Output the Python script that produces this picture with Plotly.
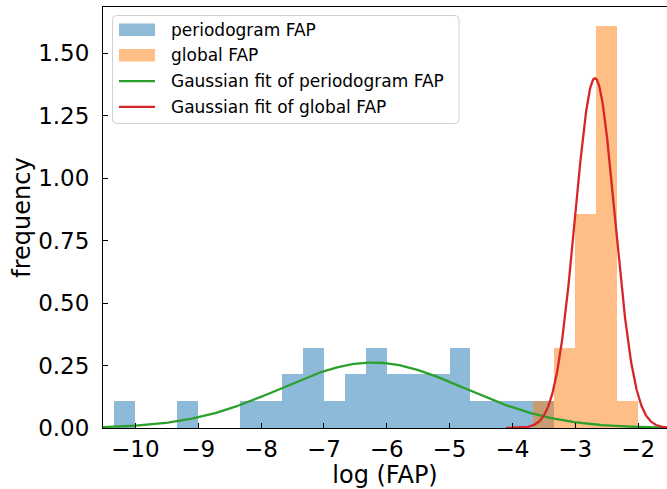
import numpy as np
import plotly.graph_objects as go

# Histogram of log(FAP) values, density-normalised, bins of width 1/3
bin_width = 1.0 / 3.0
periodogram_first_edge = -31.0 / 3.0
periodogram_counts = [1, 0, 0, 1, 0, 0, 1, 1, 2, 3, 1, 2, 3, 2, 2, 2, 3, 1, 1, 1, 1]
global_first_edge = -11.0 / 3.0
global_counts = [1, 3, 8, 15, 1]

# Gaussian fit parameters (amplitude, mean, sigma)
periodogram_fit = (0.262, -6.22, 1.46)
global_fit = (1.40, -2.686, 0.315)

x_ticks = [-10, -9, -8, -7, -6, -5, -4, -3, -2]
x_tick_labels = ["\u221210", "\u22129", "\u22128", "\u22127", "\u22126",
                 "\u22125", "\u22124", "\u22123", "\u22122"]
y_ticks = [0.0, 0.25, 0.5, 0.75, 1.0, 1.25, 1.5]

legend_labels = ["periodogram FAP", "global FAP",
                 "Gaussian fit of periodogram FAP", "Gaussian fit of global FAP"]

BLUE, ORANGE, GREEN, RED = "#1f77b4", "#ff7f0e", "#2ca02c", "#d62728"
FONT = "DejaVu Sans"

W, H = 667, 489
ML, MR, MT, MB = 103, 0, 7, 61
XR = [-10.514, -1.540]
YR = [0.0, 1.685]
PW, PH = W - ML - MR, H - MT - MB


def density(counts):
    n = sum(counts)
    return [c / (n * bin_width) for c in counts]


def centers(first_edge, counts):
    return [first_edge + (i + 0.5) * bin_width for i in range(len(counts))]


def gauss(x, a, mu, s):
    return a * np.exp(-((x - mu) ** 2) / (2 * s ** 2))


fig = go.Figure()

fig.add_trace(go.Bar(
    x=centers(periodogram_first_edge, periodogram_counts),
    y=density(periodogram_counts), width=bin_width,
    marker=dict(color=BLUE, line=dict(width=0)), opacity=0.5,
    name=legend_labels[0]))
fig.add_trace(go.Bar(
    x=centers(global_first_edge, global_counts),
    y=density(global_counts), width=bin_width,
    marker=dict(color=ORANGE, line=dict(width=0)), opacity=0.5,
    name=legend_labels[1]))

xg = np.linspace(-10.6, -1.5, 600)
fig.add_trace(go.Scatter(x=xg, y=gauss(xg, *periodogram_fit), mode="lines",
                         line=dict(color=GREEN, width=2.3), name=legend_labels[2]))
xr = np.linspace(-4.1, -1.5, 400)
fig.add_trace(go.Scatter(x=xr, y=gauss(xr, *global_fit), mode="lines",
                         line=dict(color=RED, width=2.3), name=legend_labels[3]))


# Legend box drawn in pixel units converted to paper coordinates
def px(xp):
    return (xp - ML) / PW


def py(yp):
    return (H - MB - yp) / PH


shapes = []
bx0, bx1, by0, by1, r = 112.5, 459.0, 15.5, 123.5, 4.0
path = (f"M {px(bx0 + r)} {py(by0)} L {px(bx1 - r)} {py(by0)} "
        f"Q {px(bx1)} {py(by0)} {px(bx1)} {py(by0 + r)} "
        f"L {px(bx1)} {py(by1 - r)} Q {px(bx1)} {py(by1)} {px(bx1 - r)} {py(by1)} "
        f"L {px(bx0 + r)} {py(by1)} Q {px(bx0)} {py(by1)} {px(bx0)} {py(by1 - r)} "
        f"L {px(bx0)} {py(by0 + r)} Q {px(bx0)} {py(by0)} {px(bx0 + r)} {py(by0)} Z")
shapes.append(dict(type="path", xref="paper", yref="paper", path=path,
                   fillcolor="rgba(255,255,255,0.8)",
                   line=dict(color="#d0d0d0", width=1), layer="above"))

row_y = [29.7, 55.3, 81.2, 106.8]
sx0, sx1 = 119.0, 155.0
for yy, col in zip(row_y[:2], [BLUE, ORANGE]):
    shapes.append(dict(type="rect", xref="paper", yref="paper",
                       x0=px(sx0), x1=px(sx1), y0=py(yy - 6.3), y1=py(yy + 6.3),
                       fillcolor=col, opacity=0.5, line=dict(width=0), layer="above"))
for yy, col in zip(row_y[2:], [GREEN, RED]):
    shapes.append(dict(type="line", xref="paper", yref="paper",
                       x0=px(sx0), x1=px(sx1), y0=py(yy), y1=py(yy),
                       line=dict(color=col, width=2.3), layer="above"))

annotations = []
for yy, lab in zip(row_y, legend_labels):
    annotations.append(dict(text=lab, xref="paper", yref="paper", x=px(169), y=py(yy),
                            xanchor="left", yanchor="middle", showarrow=False,
                            font=dict(family=FONT, size=17, color="black")))

fig.update_layout(
    width=W, height=H,
    margin=dict(l=ML, r=MR, t=MT, b=MB, pad=0),
    plot_bgcolor="white", paper_bgcolor="white",
    barmode="overlay", bargap=0, showlegend=False,
    font=dict(family=FONT, color="black"),
    shapes=shapes, annotations=annotations,
)

fig.update_xaxes(
    range=XR, tickvals=x_ticks, ticktext=x_tick_labels,
    showgrid=False, zeroline=False,
    showline=True, linecolor="black", linewidth=1.1, mirror=True,
    ticks="inside", ticklen=5, tickwidth=1.1, tickcolor="black",
    tickfont=dict(family=FONT, size=23), ticklabelstandoff=0,
    title=dict(text="log (FAP)", font=dict(family=FONT, size=24), standoff=3),
    automargin=False,
)
fig.update_yaxes(
    range=YR, tickvals=y_ticks, tickformat=".2f",
    showgrid=False, zeroline=False,
    showline=True, linecolor="black", linewidth=1.1, mirror=False,
    ticks="inside", ticklen=5, tickwidth=1.1, tickcolor="black",
    tickfont=dict(family=FONT, size=23), ticklabelstandoff=8,
    title=dict(text="frequency", font=dict(family=FONT, size=24), standoff=0),
    automargin=False,
)

fig.write_html("out.html")
